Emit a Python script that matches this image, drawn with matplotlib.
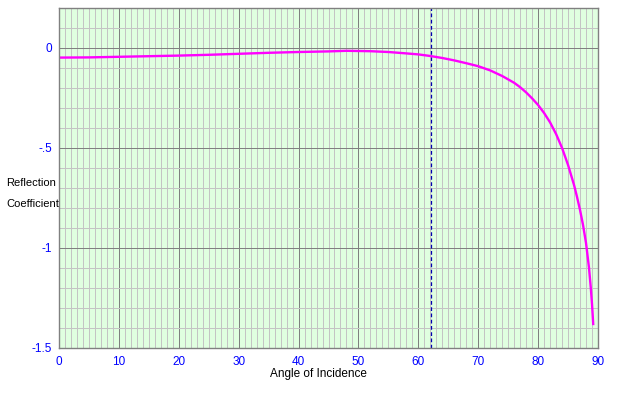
import matplotlib
matplotlib.use("Agg")
import matplotlib.pyplot as plt
import numpy as np

angles = [0, 5, 10, 15, 20, 25, 30, 35, 40, 45, 48, 52, 55, 58, 60, 62, 64, 66, 68,
          70, 72, 74, 76, 77, 78, 79, 80, 81, 82, 83, 84, 85, 86, 86.5, 87, 87.5,
          88, 88.5, 88.8, 89, 89.2]
reflection = [-0.048, -0.047, -0.044, -0.041, -0.038, -0.034, -0.029, -0.024, -0.020,
              -0.017, -0.014, -0.016, -0.020, -0.027, -0.032, -0.040, -0.050, -0.062,
              -0.076, -0.091, -0.112, -0.140, -0.174, -0.196, -0.222, -0.252, -0.285,
              -0.325, -0.372, -0.43, -0.50, -0.585, -0.685, -0.745, -0.81, -0.885,
              -0.975, -1.10, -1.20, -1.28, -1.38]
critical_angle = 62.1
x_ticks = [0, 10, 20, 30, 40, 50, 60, 70, 80, 90]
y_ticks = [0, -0.5, -1, -1.5]
y_tick_labels = ["0", "-.5", "-1", "-1.5"]

plt.rcParams['font.family'] = ['Liberation Sans', 'DejaVu Sans']

fig = plt.figure(figsize=(6.17, 3.94), dpi=100)
ax = fig.add_axes([59/617, 1-348/394, (598-59)/617, (348-8)/394])
ax.set_facecolor('#E0FFE0')
ax.set_xlim(0, 90)
ax.set_ylim(-1.5, 0.2)

ax.set_xticks(x_ticks)
ax.set_xticks(np.arange(0, 91, 1), minor=True)
ax.set_yticks(y_ticks)
ax.set_yticklabels(y_tick_labels)
ax.set_yticks(np.round(np.arange(-1.5, 0.21, 0.1), 2), minor=True)

ax.grid(which='minor', color='#C4C4C4', linewidth=0.72)
ax.grid(which='major', color='#808080', linewidth=0.72)
ax.set_axisbelow(True)
ax.tick_params(which='both', length=0)
ax.tick_params(axis='both', labelcolor='#0000FF', labelsize=8.5)
ax.tick_params(axis='x', pad=6)
ax.tick_params(axis='y', pad=5)
for s in ax.spines.values():
    s.set_color('#808080')
    s.set_linewidth(1.0)

ax.axvline(critical_angle, color='#0000B0', linewidth=0.9, linestyle=(0, (3, 2)))
ax.plot(angles, reflection, color='#FF00FF', linewidth=1.7)

fig.text(6/617, 1-183/394, "Reflection", fontsize=8, color='black', va='center', ha='left')
fig.text(6/617, 1-204/394, "Coefficient", fontsize=8, color='black', va='center', ha='left')
fig.text(318/617, 1-374/394, "Angle of Incidence", fontsize=8.5, color='black', va='center', ha='center')

fig.savefig("out.png", dpi=100)
